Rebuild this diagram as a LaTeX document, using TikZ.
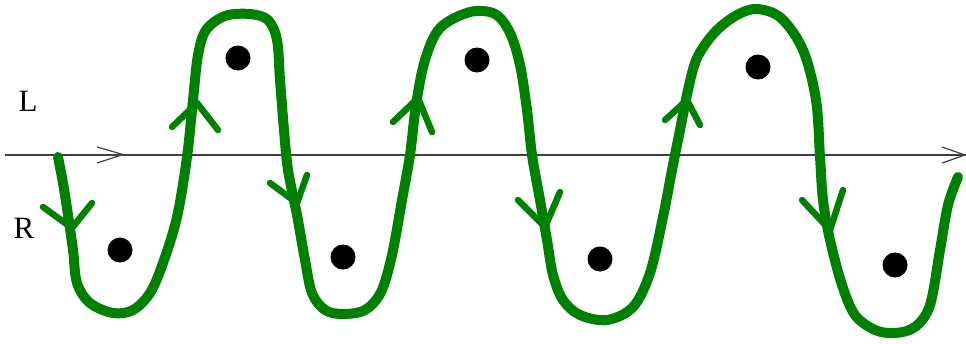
\documentclass[tikz,border=0pt]{standalone}
\usepackage{fontspec}
\setmainfont{Liberation Serif}
\definecolor{wavegreen}{RGB}{0,128,0}
\definecolor{axisgray}{RGB}{64,64,64}
\begin{document}
\begin{tikzpicture}[x=1pt,y=-1pt,
  wave/.style={draw=wavegreen,line width=10pt,line cap=round,line join=round},
  axisline/.style={draw=axisgray,line width=1.2pt},
  dot/.style={circle,fill=black,minimum size=25pt,inner sep=0pt},
  lbl/.style={font=\fontsize{31}{31}\selectfont,inner sep=0pt}]
\useasboundingbox (0,0) rectangle (966,343);
% axis
\draw[axisline] (5,155) -- (966,155);
\draw[axisline] (97,147) -- (123,154.5) -- (97,163);
\draw[axisline] (942,147) -- (965,155) -- (942,163);
% labels
\node[lbl] (L) at (28,101) {L};
\node[lbl] (R) at (24,228) {R};
% dots
\node[dot] (d1) at (120,250) {};
\node[dot] (d2) at (238,58) {};
\node[dot] (d3) at (343,257) {};
\node[dot] (d4) at (477,60) {};
\node[dot] (d5) at (600,259) {};
\node[dot] (d6) at (758,67) {};
\node[dot] (d7) at (895,265) {};
% green curve
\draw[wave] plot[smooth,tension=0.55] coordinates {
 (58,157) (63,183) (68,215) (73,250) (77,283) (90,303) (113,313) (133,310)
 (150,293) (163,263) (177,217) (187,157) (193,100) (198,55) (206,30) (225,16)
 (250,14) (268,20) (277,40) (280,80) (284,130) (288,170) (297,215) (305,260)
 (312,293) (325,310) (343,314) (365,310) (381,292) (392,255) (402,200) (410,155)
 (416,105) (425,60) (440,28) (470,12) (495,14) (510,33) (520,65) (527,110)
 (532,155) (540,200) (547,240) (553,275) (563,300) (580,315) (607,320) (633,307)
 (650,273) (663,217) (672,170) (680,130) (688,90) (697,58) (715,32) (737,15) (757,9)
 (781,18) (803,50) (816,100) (820,157) (823,200) (830,240) (842,285) (855,315)
 (875,330) (895,333) (915,327) (930,305) (940,250) (948,205) (958,177)};
% arrow chevrons on the curve
\draw[wave,line width=6.5pt] (43,207) -- (72,228) -- (92,203);
\draw[wave,line width=6.5pt] (172,127) -- (197,103) -- (218,130);
\draw[wave,line width=6.5pt] (270,183) -- (297,203) -- (307,175);
\draw[wave,line width=6.5pt] (393,122) -- (418,98) -- (432,132);
\draw[wave,line width=6.5pt] (518,200) -- (545,227) -- (560,192);
\draw[wave,line width=6.5pt] (665,120) -- (687,100) -- (700,125);
\draw[wave,line width=6.5pt] (802,200) -- (830,230) -- (843,190);
\end{tikzpicture}
\end{document}
